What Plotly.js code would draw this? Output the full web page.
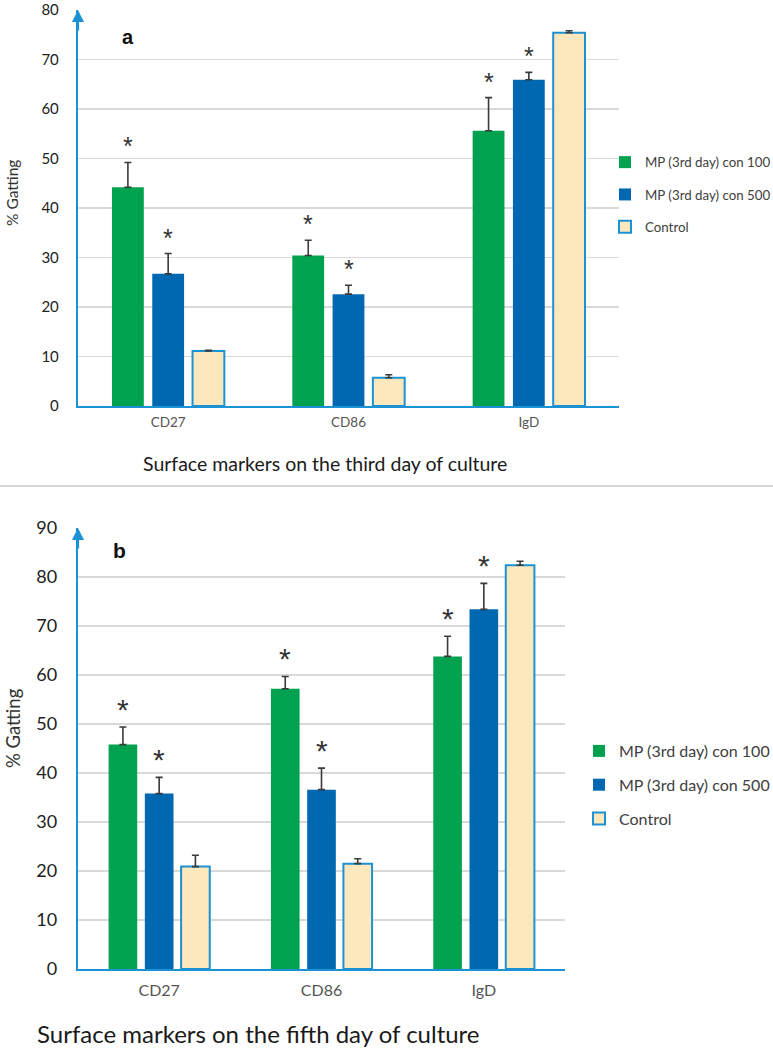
<!DOCTYPE html>
<html>
<head>
<meta charset="utf-8">
<script src="https://cdn.plot.ly/plotly-3.0.1.min.js"></script>
<style>html,body{margin:0;padding:0;background:#fff;}#chart{width:773px;height:1050px;}</style>
</head>
<body>
<div id="chart"></div>
<script>
// ---- data ----
const categories = ['CD27', 'CD86', 'IgD'];
const seriesNames = ['MP (3rd day) con 100', 'MP (3rd day) con 500', 'Control'];
const yTicks = [0, 10, 20, 30, 40, 50, 60, 70, 80, 90];

// panel a: third day of culture
const day3Con100 = [44.2, 30.4, 55.6];
const day3Con100Err = [5.0, 3.1, 6.7];
const day3Con500 = [26.7, 22.6, 65.9];
const day3Con500Err = [4.1, 1.8, 1.5];
const day3Control = [11.1, 5.7, 75.4];
const day3ControlErr = [0.15, 0.6, 0.4];

// panel b: fifth day of culture
const day5Con100 = [45.8, 57.2, 63.8];
const day5Con100Err = [3.6, 2.5, 4.1];
const day5Con500 = [35.8, 36.6, 73.4];
const day5Con500Err = [3.3, 4.4, 5.3];
const day5Control = [20.9, 21.5, 82.4];
const day5ControlErr = [2.3, 1.0, 0.8];

// significance (asterisk) flags per series
const significant = [true, true, false];

// ---- styles ----
const W = 773, H = 1050;
const green = '#00a24f', blue = '#0067b1', ctrlFill = '#fde7bc', axisBlue = '#1b92d4';
const FONT = 'Lato, "Open Sans", sans-serif';
const BARGAP = 0.33, GROUPGAP = 0.21;

const domA = {x: [78 / W, 619 / W], y: [1 - 406 / H, 1 - 10 / H]};
const domB = {x: [78 / W, 565 / W], y: [1 - 969 / H, 1 - 528 / H]};

function barTraces(vals, errs, xa, ya, legend) {
  const fills = [green, blue, ctrlFill];
  const lines = [green, blue, axisBlue];
  const lw = [0, 0, 2];
  return vals.map((v, i) => ({
    type: 'bar', x: categories, y: v, name: seriesNames[i],
    xaxis: xa, yaxis: ya, legend: legend, legendgroup: legend + i,
    marker: {color: fills[i], line: {color: lines[i], width: lw[i]}},
    error_y: {type: 'data', symmetric: false, array: errs[i],
              arrayminus: errs[i].map(() => 0), color: '#3a3a3a', thickness: 1.6, width: 3.5},
    hoverinfo: 'skip'
  }));
}

const dataA = [day3Con100, day3Con500, day3Control];
const errA = [day3Con100Err, day3Con500Err, day3ControlErr];
const dataB = [day5Con100, day5Con500, day5Control];
const errB = [day5Con100Err, day5Con500Err, day5ControlErr];

const traces = [
  ...barTraces(dataA, errA, 'x', 'y', 'legend'),
  ...barTraces(dataB, errB, 'x2', 'y2', 'legend2')
];

function asterisks(vals, errs, xref, yref, dom, size, yshift) {
  const catPx = (dom.x[1] - dom.x[0]) * W / categories.length;
  const slot = catPx * (1 - BARGAP) / vals.length;
  const out = [];
  vals.forEach((v, i) => {
    if (!significant[i]) return;
    v.forEach((val, j) => {
      out.push({
        xref: xref, yref: yref, x: categories[j], y: val + errs[i][j],
        xshift: (i - (vals.length - 1) / 2) * slot, yshift: yshift,
        xanchor: 'center', yanchor: 'bottom', showarrow: false, text: '*',
        font: {family: '"Liberation Sans", Arial, sans-serif', size: size, color: '#333'}
      });
    });
  });
  return out;
}

function axisArrow(xref, yref, x, y) {
  return {xref: xref, yref: yref, x: x, y: y, ax: 0, ay: 22, axref: 'pixel', ayref: 'pixel',
          text: '', showarrow: true, arrowhead: 2, arrowsize: 1.1, arrowwidth: 2.2,
          arrowcolor: axisBlue, standoff: 0, startstandoff: 0};
}

function label(x, y, text, size, extra) {
  return Object.assign({xref: 'paper', yref: 'paper', x: x / W, y: 1 - y / H, text: text,
    showarrow: false, xanchor: 'center', yanchor: 'middle',
    font: {family: FONT, size: size, color: '#1a1a1a'}}, extra || {});
}

const annotations = [
  ...asterisks(dataA, errA, 'x', 'y', domA, 25, 0),
  ...asterisks(dataB, errB, 'x2', 'y2', domB, 30, -1),
  // panel letters
  label(128, 37, '<b>a</b>', 20, {font: {family: '"Liberation Sans", Arial, sans-serif', size: 20, color: '#111'}}),
  label(119, 550, '<b>b</b>', 21, {font: {family: '"Liberation Sans", Arial, sans-serif', size: 21, color: '#111'}}),
  // x titles
  label(325, 463, 'Surface markers on the third day of culture', 19.5),
  label(258, 1033, 'Surface markers on the fifth day of culture', 24),
  // y titles
  label(12, 193, '% Gatting', 15.5, {textangle: -90, font: {family: FONT, size: 15.5, color: '#333'}}),
  label(13, 728, '% Gatting', 18.5, {textangle: -90, font: {family: FONT, size: 18.5, color: '#333'}}),
  axisArrow('x domain', 'y', 0, 80),
  axisArrow('x2 domain', 'y2', 0, 90)
];

function yAxis(dom, max, size, standoff) {
  return {domain: dom, range: [0, max], tickvals: yTicks.filter(t => t <= max), showgrid: true,
          gridcolor: '#d9d9d9', gridwidth: 1.2, zeroline: false, showline: true, linecolor: axisBlue,
          linewidth: 2.2, ticks: '', ticklabelstandoff: standoff, automargin: false,
          tickfont: {family: FONT, size: size, color: '#222'}, fixedrange: true};
}
function xAxis(dom, anchor, size, standoff) {
  return {domain: dom, anchor: anchor, showgrid: false, zeroline: false, showline: true,
          linecolor: axisBlue, linewidth: 2.2, ticks: '', ticklabelstandoff: standoff, automargin: false,
          tickfont: {family: FONT, size: size, color: '#555'}, fixedrange: true};
}

const layout = {
  width: W, height: H, margin: {l: 0, r: 0, t: 0, b: 0, autoexpand: false},
  paper_bgcolor: '#fff', plot_bgcolor: '#fff',
  barmode: 'group', bargap: BARGAP, bargroupgap: GROUPGAP,
  xaxis: xAxis(domA.x, 'y', 13.5, 3),
  yaxis: yAxis(domA.y, 80, 15, 14),
  xaxis2: xAxis(domB.x, 'y2', 16, 6),
  yaxis2: yAxis(domB.y, 90, 18, 15),
  showlegend: true,
  legend: {x: 605 / W, y: 1 - 147 / H, xanchor: 'left', yanchor: 'top', bgcolor: 'rgba(0,0,0,0)',
           font: {family: FONT, size: 13.3, color: '#404040'}, traceorder: 'grouped', tracegroupgap: 12,
           itemwidth: 30},
  legend2: {x: 579 / W, y: 1 - 734 / H, xanchor: 'left', yanchor: 'top', bgcolor: 'rgba(0,0,0,0)',
            font: {family: FONT, size: 16, color: '#404040'}, traceorder: 'grouped', tracegroupgap: 10,
            itemwidth: 30},
  shapes: [
    {type: 'line', xref: 'paper', yref: 'paper', x0: 0, x1: 1, y0: 1 - 486 / H, y1: 1 - 486 / H,
     line: {color: '#c9c9c9', width: 1.5}}
  ],
  annotations: annotations
};

Plotly.newPlot('chart', traces, layout, {displayModeBar: false, staticPlot: true});
</script>
</body>
</html>
